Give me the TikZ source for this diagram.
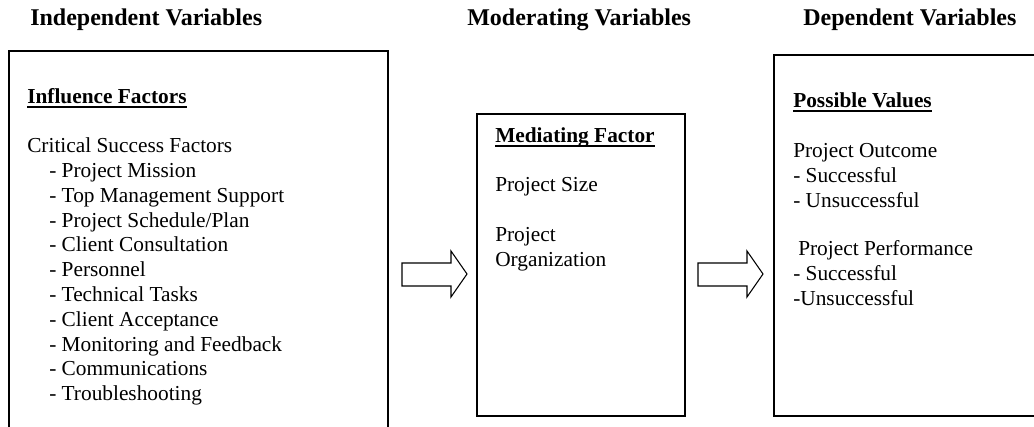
\documentclass[tikz,border=0pt]{standalone}
\usepackage{fontspec}
\setmainfont{Liberation Serif}
\begin{document}
\begin{tikzpicture}[x=0.75pt,y=-0.75pt,
  box/.style={draw=black,line width=1.3pt},
  head/.style={anchor=base west,inner sep=0pt,font=\fontsize{18}{21}\selectfont\bfseries},
  title/.style={anchor=base west,inner sep=0pt,font=\fontsize{16}{18.5}\selectfont\bfseries},
  txt/.style={anchor=base west,inner sep=0pt,font=\fontsize{16}{18.5}\selectfont},
  uline/.style={line width=1.1pt},
  blockarrow/.style={draw=black,line width=0.8pt,fill=white}]
\useasboundingbox (0,0) rectangle (1034,427);
\clip (0,0) rectangle (1034,427);
% headings
\node[head] (hIndep) at (30,26) {Independent Variables};
\node[head] (hMod) at (467,26) {Moderating Variables};
\node[head] (hDep) at (803,26) {Dependent Variables};
% boxes
\draw[box] (9,51) rectangle (388,445);
\draw[box] (477,114) rectangle (685,416);
\draw[box] (774,55) rectangle (1045,416);
% left box text
\node[title] (inf) at (27,104) {Influence Factors};
\draw[uline] ([yshift=-2.3pt]inf.base west) -- ([yshift=-2.3pt]inf.base east);
\node[txt] (csf) at (27,153) {Critical Success Factors};
\foreach \t [count=\i] in {Project Mission,Top Management Support,Project Schedule/Plan,Client Consultation,Personnel,Technical Tasks,Client Acceptance,Monitoring and Feedback,Communications,Troubleshooting}
  \node[txt] (item\i) at (49,{153+24.75*\i}) {- \t};
% middle box text
\node[title] (mf) at (495,143) {Mediating Factor};
\draw[uline] ([yshift=-2.3pt]mf.base west) -- ([yshift=-2.3pt]mf.base east);
\node[txt] (ps) at (495,192) {Project Size};
\node[txt] (po1) at (495,242) {Project};
\node[txt] (po2) at (495,266.7) {Organization};
% right box text
\node[title] (pv) at (793,108) {Possible Values};
\draw[uline] ([yshift=-2.3pt]pv.base west) -- ([yshift=-2.3pt]pv.base east);
\node[txt] (out) at (793,158) {Project Outcome};
\node[txt] (out1) at (793,182.7) {- Successful};
\node[txt] (out2) at (793,207.4) {- Unsuccessful};
\node[txt] (perf) at (798,256) {Project Performance};
\node[txt] (perf1) at (793,280.7) {- Successful};
\node[txt] (perf2) at (793,305.4) {-Unsuccessful};
% block arrows
\draw[blockarrow] (402,263) -- (451,263) -- (451,251) -- (467,274) -- (451,297) -- (451,286) -- (402,286) -- cycle;
\draw[blockarrow] (698,263) -- (747,263) -- (747,251) -- (763,274) -- (747,297) -- (747,286) -- (698,286) -- cycle;
\end{tikzpicture}
\end{document}
